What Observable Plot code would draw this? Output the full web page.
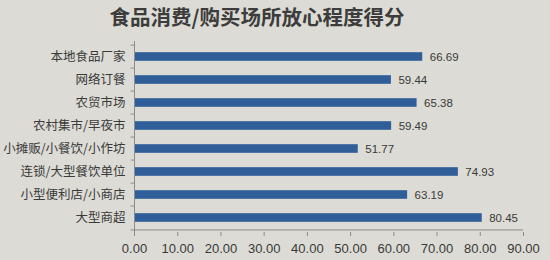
<!DOCTYPE html>
<html>
<head>
<meta charset="utf-8">
<script src="https://cdn.jsdelivr.net/npm/d3@7"></script>
<script src="https://cdn.jsdelivr.net/npm/@observablehq/plot@0.6"></script>
<style>
  html, body { margin: 0; padding: 0; background: #dcdbd5; }
  #wrap { width: 550px; height: 260px; overflow: hidden; }
  #title {
    height: 32px; line-height: 32px; text-align: center;
    font-family: "Noto Sans CJK SC", sans-serif; font-weight: 700;
    font-size: 20.5px; color: #3c3c3c; padding-right: 36px;
  }
</style>
</head>
<body>
<div id="wrap">
  <div id="title">食品消费/购买场所放心程度得分</div>
  <div id="chart"></div>
</div>
<script>
// Venues, top to bottom, and their confidence scores
const venues = ["本地食品厂家", "网络订餐", "农贸市场", "农村集市/早夜市", "小摊贩/小餐饮/小作坊", "连锁/大型餐饮单位", "小型便利店/小商店", "大型商超"];
const scores = [66.69, 59.44, 65.38, 59.49, 51.77, 74.93, 63.19, 80.45];
const xTicks = [0, 10, 20, 30, 40, 50, 60, 70, 80, 90];

const rows = venues.map((venue, i) => ({venue, score: scores[i]}));

const H = 228, mTop = 9, mBottom = 28;
const band = (H - mTop - mBottom) / venues.length;
const axisColor = "#8c8c8c";
const ink = "#3a3a3a";

const chart = Plot.plot({
  width: 550,
  height: H,
  marginTop: mTop,
  marginBottom: mBottom,
  marginLeft: 134,
  marginRight: 27,
  style: {background: "transparent", color: ink, fontFamily: "Liberation Sans, sans-serif"},
  x: {domain: [0, 90]},
  y: {domain: venues, padding: 0},
  marks: [
    // bars, thinned inside each band
    Plot.barX(rows, {x: "score", y: "venue", fill: "#2f5e98", insetTop: 7.2, insetBottom: 7.2, insetLeft: 1}),
    // value labels
    Plot.text(rows, {x: "score", y: "venue", text: d => d.score.toFixed(2), textAnchor: "start", dx: 7, fontSize: 11.5, fill: ink}),
    // category axis line and boundary ticks
    Plot.ruleX([0], {stroke: axisColor}),
    Plot.ruleY(venues, {y: d => d, x1: -0.8, x2: 0, dy: -band / 2, stroke: axisColor}),
    Plot.ruleY([venues[venues.length - 1]], {y: d => d, x1: -0.8, x2: 0, dy: band / 2, stroke: axisColor}),
    Plot.axisY({tickSize: 0, tickPadding: 9, fontSize: 12.5, fontFamily: "Noto Sans CJK SC", fill: ink, label: null}),
    // value axis
    Plot.ruleY([0], {y: () => venues[venues.length - 1], dy: band / 2, stroke: axisColor}),
    Plot.axisX({ticks: xTicks, tickFormat: d => d.toFixed(2), tickSize: 4, tickPadding: 7, fontSize: 13, stroke: axisColor, fill: ink, label: null, anchor: "bottom"})
  ]
});
document.getElementById("chart").append(chart);
</script>
</body>
</html>
